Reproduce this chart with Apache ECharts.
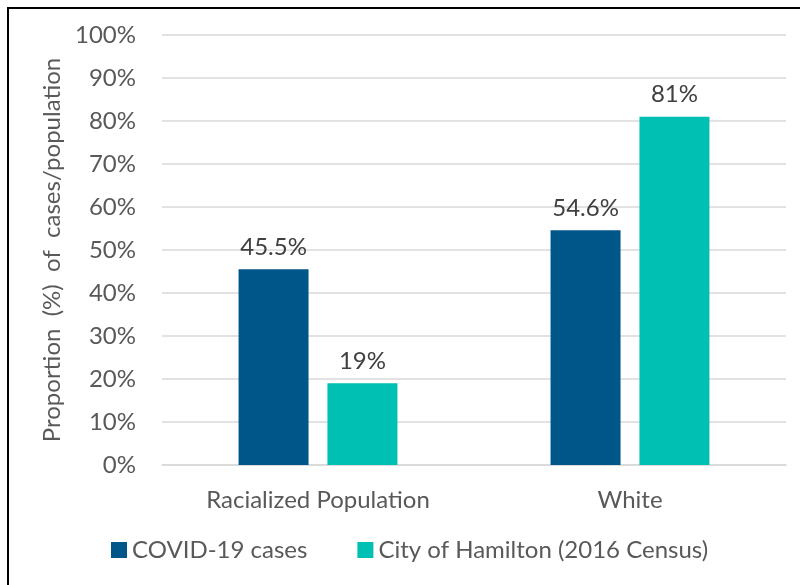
<!DOCTYPE html>
<html>
<head>
<meta charset="utf-8">
<script src="https://cdn.jsdelivr.net/npm/echarts@6/dist/echarts.min.js"></script>
<style>
  html, body { margin: 0; padding: 0; background: #fff; }
  #chart { width: 800px; height: 585px; }
</style>
</head>
<body>
<div id="chart"></div>
<script>
const categories = ["Racialized Population", "White"];
const covidCases = [45.5, 54.6];
const hamiltonCensus = [19, 81];
const covidLabels = ["45.5%", "54.6%"];
const censusLabels = ["19%", "81%"];

const font = "Lato, 'Open Sans', sans-serif";
const chart = echarts.init(document.getElementById("chart"));

const option = {
  backgroundColor: "#fff",
  animation: false,
  textStyle: { fontFamily: font },
  graphic: [
    {
      type: "rect",
      shape: { x: 8, y: 8, width: 810, height: 600 },
      style: { fill: "none", stroke: "#000", lineWidth: 2 }
    }
  ],
  grid: { left: 162, right: 14, top: 35, bottom: 120 },
  legend: {
    bottom: 18,
    left: 106,
    itemWidth: 16,
    itemHeight: 16,
    itemGap: 50,
    icon: "rect",
    textStyle: { color: "#595959", fontSize: 24, fontFamily: font },
    data: ["COVID-19 cases", "City of Hamilton (2016 Census)"]
  },
  xAxis: {
    type: "category",
    data: categories,
    axisLine: { show: true, lineStyle: { color: "#d9d9d9", width: 1.5 } },
    axisTick: { show: false },
    axisLabel: { color: "#595959", fontSize: 24, margin: 23, fontFamily: font }
  },
  yAxis: {
    type: "value",
    min: 0,
    max: 100,
    interval: 10,
    name: "Proportion  (%)  of  cases/population",
    nameLocation: "middle",
    nameGap: 96,
    nameTextStyle: { color: "#595959", fontSize: 24, fontFamily: font },
    axisLine: { show: false },
    axisTick: { show: false },
    axisLabel: {
      color: "#595959",
      fontSize: 24,
      margin: 26,
      fontFamily: font,
      formatter: (v) => v + "%"
    },
    splitLine: { lineStyle: { color: "#d9d9d9", width: 1.5 } }
  },
  series: [
    {
      name: "COVID-19 cases",
      type: "bar",
      data: covidCases,
      barWidth: 70,
      barGap: "27%",
      itemStyle: { color: "#005689" },
      label: {
        show: true,
        position: "top",
        distance: 10,
        color: "#404040",
        fontSize: 24,
        fontFamily: font,
        formatter: (p) => covidLabels[p.dataIndex]
      }
    },
    {
      name: "City of Hamilton (2016 Census)",
      type: "bar",
      data: hamiltonCensus,
      barWidth: 70,
      itemStyle: { color: "#00BFB3" },
      label: {
        show: true,
        position: "top",
        distance: 10,
        color: "#404040",
        fontSize: 24,
        fontFamily: font,
        formatter: (p) => censusLabels[p.dataIndex]
      }
    }
  ]
};

chart.setOption(option);
</script>
</body>
</html>
